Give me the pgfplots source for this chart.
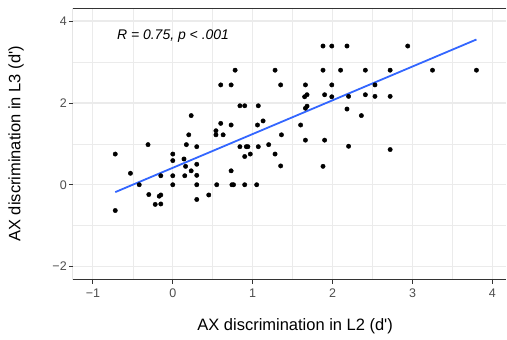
\documentclass[border=0pt]{standalone}
\usepackage{pgfplots}
\pgfplotsset{compat=1.18}
\usepackage{fontspec}
\setmainfont{Liberation Sans}
\definecolor{gridc}{HTML}{EBEBEB}
\definecolor{axc}{HTML}{333333}
\definecolor{tickc}{HTML}{4D4D4D}
\definecolor{fitc}{HTML}{3366FF}
\begin{document}
\begin{tikzpicture}
\begin{axis}[
  at={(0pt,0pt)}, anchor=south west,
  scale only axis, width=434pt, height=272pt,
  xmin=-1.25, xmax=4.175, ymin=-2.32, ymax=4.32,
  xtick={-1,0,1,2,3,4}, xticklabels={−1,0,1,2,3,4},
  ytick={-2,0,2,4}, yticklabels={−2,0,2,4},
  minor xtick={-0.5,0.5,1.5,2.5,3.5},
  minor ytick={-1,1,3},
  grid=both,
  major grid style={gridc, line width=1.2pt},
  minor grid style={gridc, line width=0.6pt},
  axis line style={draw=none},
  tick align=outside,
  major tick length=4pt, minor tick length=0pt,
  tick style={axc, line width=0.8pt},
  xtick pos=bottom, ytick pos=left,
  ticklabel style={font=\fontsize{12.5}{14}\selectfont, text=tickc},
  xticklabel style={anchor=north, inner sep=0pt, yshift=-5pt},
  yticklabel style={anchor=east, inner sep=0pt, xshift=-2pt},
  xlabel={AX discrimination in L2 (d\textquotesingle)},
  ylabel={AX discrimination in L3 (d\textquotesingle)},
  label style={font=\fontsize{16.5}{18}\selectfont},
  xlabel style={at={(axis description cs:0.5127,-0.1728)}, anchor=center},
  ylabel style={at={(axis description cs:-0.1313,0.5)}, anchor=center},
]
\addplot[only marks, mark=*, mark size=2.2pt, black] coordinates {
(-0.72,0.75) (-0.72,-0.63) (-0.53,0.28) (-0.42,0.00) (-0.31,0.98)
(-0.30,-0.24) (-0.22,-0.48) (-0.17,-0.28) (-0.15,-0.25) (-0.15,-0.47)
(-0.15,0.22) (0.00,0.75) (0.00,0.59) (0.00,0.22) (0.00,0.00)
(0.14,0.63) (0.16,0.45) (0.15,0.22) (0.17,0.98) (0.20,1.22)
(0.23,1.69) (0.23,0.34) (0.30,0.93) (0.30,0.50) (0.30,0.23)
(0.30,0.00) (0.30,-0.36) (0.45,-0.25) (0.54,1.32) (0.54,1.22)
(0.55,0.00) (0.60,1.50) (0.60,2.44) (0.63,1.22) (0.73,2.44)
(0.73,1.46) (0.73,0.34) (0.74,0.00) (0.76,0.00) (0.78,2.80)
(0.84,1.93) (0.90,1.93) (0.84,0.93) (0.92,0.93) (0.94,0.93)
(0.90,0.69) (0.97,0.75) (0.90,0.00) (1.05,0.00) (1.06,1.46)
(1.07,1.93) (1.07,0.93) (1.13,1.56) (1.20,0.98) (1.28,2.80)
(1.28,0.75) (1.35,2.44) (1.36,1.22) (1.35,0.46) (1.60,1.46)
(1.66,2.44) (1.65,2.15) (1.68,2.20) (1.66,1.87) (1.68,1.92)
(1.66,1.09) (1.88,3.39) (1.99,3.39) (1.88,2.80) (1.99,2.44)
(1.90,2.20) (1.99,2.15) (1.90,1.09) (1.88,0.45) (2.18,3.39)
(2.10,2.80) (2.41,2.80) (2.72,2.80) (2.53,2.44) (2.20,2.16)
(2.41,2.20) (2.53,2.16) (2.72,2.16) (2.18,1.85) (2.36,1.69)
(2.20,0.94) (2.72,0.86) (2.94,3.39) (3.25,2.80) (3.80,2.80)
};
\addplot[fitc, line width=1.8pt] coordinates {(-0.72,-0.18) (3.80,3.55)};
\node[anchor=west, inner sep=0pt, font=\fontsize{14}{16}\selectfont\itshape] at (axis cs:-0.70,3.63) {R = 0.75, p < .001};
\draw[axc, line width=0.9pt] (rel axis cs:1,1) -- (rel axis cs:0,1) -- (rel axis cs:0,0) -- (rel axis cs:1,0);
\end{axis}
\path (-73pt,-60pt) rectangle (434pt,280pt);
\end{tikzpicture}
\end{document}
